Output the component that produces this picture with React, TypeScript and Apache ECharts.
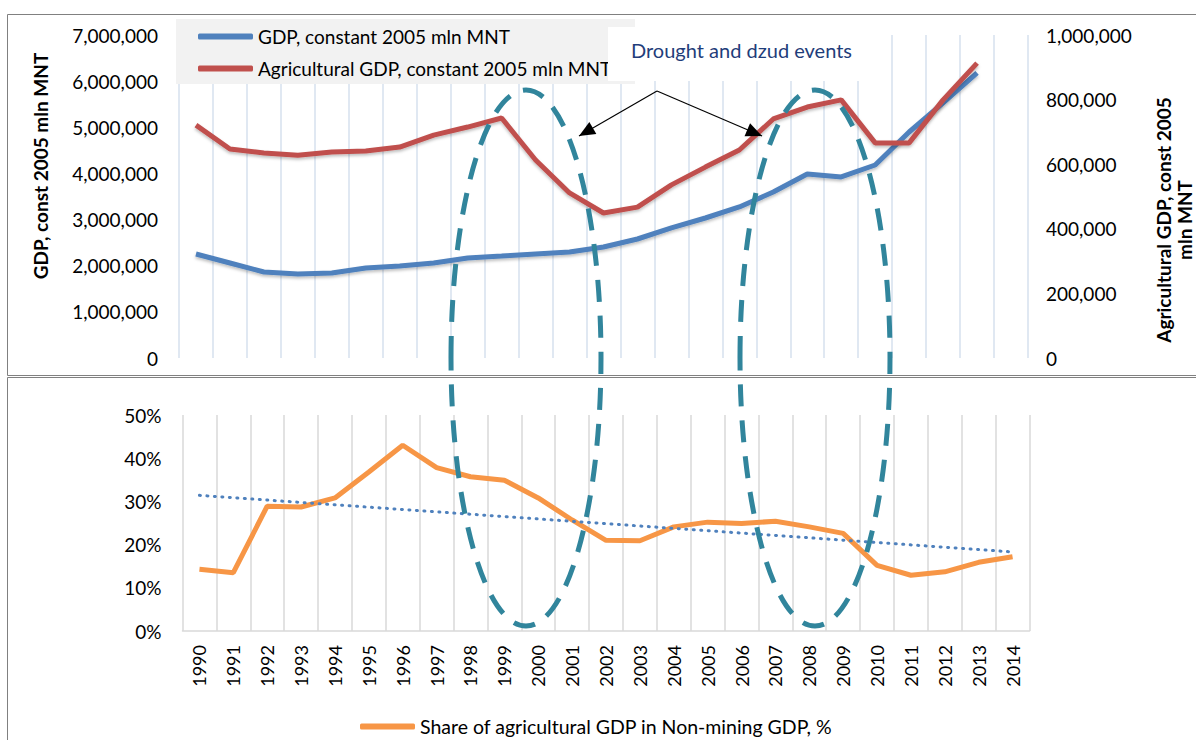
import React, { useEffect, useRef } from 'react';
import * as echarts from 'echarts';

const years = ['1990', '1991', '1992', '1993', '1994', '1995', '1996', '1997', '1998', '1999', '2000', '2001', '2002', '2003', '2004', '2005', '2006', '2007', '2008', '2009', '2010', '2011', '2012', '2013', '2014'];

// GDP, constant 2005 mln MNT (1990–2013)
const gdp = [2254000, 2059000, 1864000, 1821000, 1842000, 1951000, 1994000, 2059000, 2167000, 2210000, 2254000, 2297000, 2406000, 2579000, 2818000, 3034000, 3273000, 3598000, 3988000, 3923000, 4183000, 4898000, 5527000, 6177000];

// Agricultural GDP, constant 2005 mln MNT (1990–2013)
const agriGdp = [721000, 647000, 635000, 628000, 638000, 641000, 653000, 690000, 715000, 743000, 613000, 511000, 449000, 467000, 536000, 591000, 644000, 740000, 777000, 799000, 666000, 666000, 799000, 913000];

// Share of agricultural GDP in non-mining GDP, % (1990–2014)
const agriShare = [14.3, 13.5, 28.9, 28.7, 30.8, 36.8, 43.0, 37.8, 35.7, 34.9, 30.8, 25.7, 21.0, 20.9, 24.1, 25.2, 24.9, 25.4, 24.1, 22.6, 15.2, 12.9, 13.7, 15.9, 17.2];

// Linear trend line end points
const trendStart = 31.4;
const trendEnd = 18.3;

const SER_GDP = 'GDP, constant 2005 mln MNT';
const SER_AGRI = 'Agricultural GDP, constant 2005 mln MNT';
const SER_SHARE = 'Share of agricultural GDP in Non-mining GDP, %';

const FONT = 'Lato, "Open Sans", sans-serif';

function arrowHead(ax: number, ay: number, tx: number, ty: number, len: number, half: number) {
  const dx = tx - ax;
  const dy = ty - ay;
  const l = Math.sqrt(dx * dx + dy * dy);
  const ux = dx / l;
  const uy = dy / l;
  const bx = tx - ux * len;
  const by = ty - uy * len;
  return [
    [tx, ty],
    [bx - uy * half, by + ux * half],
    [bx + uy * half, by - ux * half],
  ];
}

export default function App() {
  const ref = useRef<HTMLDivElement>(null);

  useEffect(() => {
    if (!ref.current) return;
    const chart = echarts.init(ref.current, undefined, { renderer: 'svg' });
    const fmt = (v: number) => Number(v).toLocaleString('en-US');
    const apex = [657, 91];
    const tipL = [579, 136];
    const tipR = [762, 136];
    const shadow = { shadowColor: 'rgba(0,0,0,0.25)', shadowBlur: 3, shadowOffsetY: 2 };

    chart.setOption({
      animation: false,
      textStyle: { fontFamily: FONT },
      grid: [
        { left: 179, right: 168, top: 35, height: 323 },
        { left: 182.5, right: 166.5, top: 415, height: 216 },
      ],
      legend: [
        {
          data: [SER_GDP, SER_AGRI],
          orient: 'vertical',
          left: 198,
          top: 26,
          padding: 0,
          itemWidth: 55,
          itemHeight: 6,
          itemGap: 11,
          icon: 'roundRect',
          textStyle: { fontSize: 19, lineHeight: 21, color: '#000', fontFamily: FONT },
        },
        {
          data: [SER_SHARE],
          left: 360,
          top: 716,
          padding: 0,
          itemWidth: 55,
          itemHeight: 6,
          icon: 'roundRect',
          textStyle: { fontSize: 19.5, lineHeight: 21, color: '#000', fontFamily: FONT },
        },
      ],
      xAxis: [
        {
          type: 'category',
          gridIndex: 0,
          data: years,
          boundaryGap: true,
          axisLine: { show: false },
          axisTick: { show: false },
          axisLabel: { show: false },
          splitLine: { show: true, interval: 0, lineStyle: { color: '#D6E0EE', width: 1.5 } },
        },
        {
          type: 'category',
          gridIndex: 1,
          data: years,
          boundaryGap: true,
          axisLine: { show: true, lineStyle: { color: '#D9D9D9', width: 1.5 } },
          axisTick: { show: false },
          axisLabel: { interval: 0, rotate: 90, margin: 14, fontSize: 18, color: '#000', fontFamily: FONT },
          splitLine: { show: true, interval: 0, lineStyle: { color: '#D9D9D9', width: 1.5 } },
        },
      ],
      yAxis: [
        {
          type: 'value',
          gridIndex: 0,
          min: 0,
          max: 7000000,
          interval: 1000000,
          axisLine: { show: false },
          axisTick: { show: false },
          splitLine: { show: false },
          axisLabel: { margin: 21, fontSize: 19, color: '#000', fontFamily: FONT, formatter: fmt },
        },
        {
          type: 'value',
          gridIndex: 0,
          position: 'right',
          min: 0,
          max: 1000000,
          interval: 200000,
          axisLine: { show: false },
          axisTick: { show: false },
          splitLine: { show: false },
          axisLabel: { margin: 18, fontSize: 19, color: '#000', fontFamily: FONT, formatter: fmt },
        },
        {
          type: 'value',
          gridIndex: 1,
          min: 0,
          max: 50,
          interval: 10,
          axisLine: { show: false },
          axisTick: { show: false },
          splitLine: { show: false },
          axisLabel: { margin: 21, fontSize: 19, color: '#000', fontFamily: FONT, formatter: '{value}%' },
        },
      ],
      series: [
        {
          name: SER_GDP,
          type: 'line',
          xAxisIndex: 0,
          yAxisIndex: 0,
          data: gdp,
          showSymbol: false,
          symbol: 'none',
          color: '#4F81BD',
          lineStyle: { width: 5, color: '#4F81BD', ...shadow },
        },
        {
          name: SER_AGRI,
          type: 'line',
          xAxisIndex: 0,
          yAxisIndex: 1,
          data: agriGdp,
          showSymbol: false,
          symbol: 'none',
          color: '#C0504D',
          lineStyle: { width: 5, color: '#C0504D', ...shadow },
        },
        {
          name: SER_SHARE,
          type: 'line',
          xAxisIndex: 1,
          yAxisIndex: 2,
          data: agriShare,
          showSymbol: false,
          symbol: 'none',
          color: '#F79646',
          lineStyle: { width: 5, color: '#F79646' },
        },
        {
          name: 'Linear trend',
          type: 'line',
          xAxisIndex: 1,
          yAxisIndex: 2,
          data: [[years[0], trendStart], [years[years.length - 1], trendEnd]],
          showSymbol: false,
          symbol: 'none',
          color: '#4F81BD',
          lineStyle: { width: 3, color: '#4F81BD', type: [1, 6.5], cap: 'round' },
          z: 3,
        },
      ],
      graphic: [
        // panel borders
        { type: 'rect', z: 20, shape: { x: 7.5, y: 14.5, width: 1200, height: 361 }, style: { fill: 'none', stroke: '#808080', lineWidth: 1 } },
        { type: 'rect', z: 20, shape: { x: 7.5, y: 377.5, width: 1200, height: 400 }, style: { fill: 'none', stroke: '#808080', lineWidth: 1 } },
        // legend background
        { type: 'rect', z: 1, shape: { x: 176, y: 19, width: 459, height: 65 }, style: { fill: '#F2F2F2' } },
        // annotation box
        { type: 'rect', z: 6, shape: { x: 608, y: 27, width: 282, height: 54 }, style: { fill: '#FFFFFF' } },
        { type: 'text', z: 7, x: 631, y: 50, style: { text: 'Drought and dzud events', fill: '#1F3D7A', font: `20px ${FONT}`, verticalAlign: 'middle' } },
        // arrows
        { type: 'line', z: 11, shape: { x1: apex[0], y1: apex[1], x2: tipL[0], y2: tipL[1] }, style: { stroke: '#000', lineWidth: 1.2 } },
        { type: 'line', z: 11, shape: { x1: apex[0], y1: apex[1], x2: tipR[0], y2: tipR[1] }, style: { stroke: '#000', lineWidth: 1.2 } },
        { type: 'polygon', z: 11, shape: { points: arrowHead(apex[0], apex[1], tipL[0], tipL[1], 16, 7) }, style: { fill: '#000' } },
        { type: 'polygon', z: 11, shape: { points: arrowHead(apex[0], apex[1], tipR[0], tipR[1], 16, 7) }, style: { fill: '#000' } },
        // drought ellipses
        { type: 'ellipse', z: 10, shape: { cx: 526, cy: 358, rx: 75, ry: 268 }, style: { fill: 'none', stroke: '#31859C', lineWidth: 5, lineDash: [22, 14] } },
        { type: 'ellipse', z: 10, shape: { cx: 815, cy: 358, rx: 75, ry: 268 }, style: { fill: 'none', stroke: '#31859C', lineWidth: 5, lineDash: [22, 14] } },
        // axis titles
        { type: 'text', z: 7, x: 40, y: 166, rotation: Math.PI / 2, style: { text: 'GDP, const 2005 mln MNT', fill: '#000', font: `bold 19px ${FONT}`, align: 'center', verticalAlign: 'middle' } },
        { type: 'text', z: 7, x: 1163, y: 220, rotation: Math.PI / 2, style: { text: 'Agricultural GDP, const 2005', fill: '#000', font: `bold 19px ${FONT}`, align: 'center', verticalAlign: 'middle' } },
        { type: 'text', z: 7, x: 1184, y: 220, rotation: Math.PI / 2, style: { text: 'mln MNT', fill: '#000', font: `bold 19px ${FONT}`, align: 'center', verticalAlign: 'middle' } },
      ],
    });
    return () => chart.dispose();
  }, []);

  return <div ref={ref} style={{ position: 'fixed', left: 0, top: 0, width: 1196, height: 740, background: '#fff' }} />;
}
